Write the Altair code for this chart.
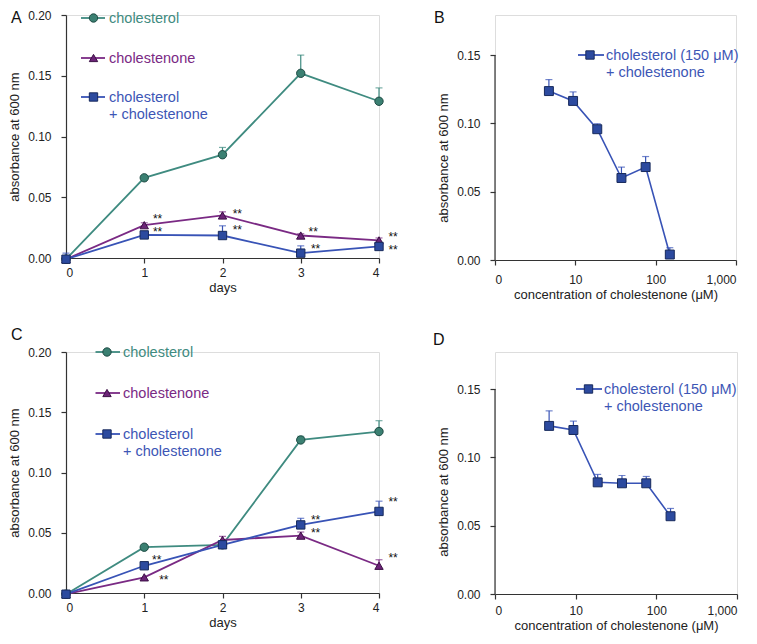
import altair as alt
import pandas as pd

FONT = "Liberation Sans"

SERIES = ["cholesterol", "cholestenone", "cholesterol + cholestenone"]
LEGEND_LABELS = ["cholesterol", "cholestenone", "cholesterol\n+ cholestenone"]
LINE_COLORS = ["#3f8b80", "#7a2a84", "#3853b6"]
FILL_COLORS = ["#3b8072", "#6c2377", "#2c4a9f"]
STROKE_COLORS = ["#1f4b44", "#3a0f44", "#182a5c"]
TEXT_COLORS = ["#3f8b80", "#7a2a84", "#3d56b5"]
SHAPES = ["circle", "triangle-up", "square"]

DAYS = [0, 1, 2, 3, 4]
A_CHOL = [-0.001, 0.066, 0.085, 0.152, 0.129]
A_CHOL_ERR = [0.0, 0.0, 0.006, 0.015, 0.011]
A_CONE = [-0.001, 0.027, 0.035, 0.0185, 0.0145]
A_CONE_ERR = [0.0, 0.002, 0.003, 0.0015, 0.002]
A_COMB = [-0.001, 0.019, 0.0185, 0.004, 0.0095]
A_COMB_ERR = [0.005, 0.001, 0.008, 0.006, 0.002]
A_STAR_X = [1.17, 1.17, 2.19, 2.19, 3.16, 3.19, 4.18, 4.18]
A_STAR_Y = [0.0346, 0.0241, 0.0394, 0.0257, 0.0241, 0.0105, 0.0202, 0.0092]

C_CHOL = [-0.001, 0.038, 0.040, 0.127, 0.134]
C_CHOL_ERR = [0.0, 0.0, 0.001, 0.003, 0.009]
C_CONE = [-0.001, 0.013, 0.044, 0.0476, 0.0226]
C_CONE_ERR = [0.0, 0.0, 0.003, 0.003, 0.005]
C_COMB = [-0.001, 0.0226, 0.040, 0.0565, 0.0677]
C_COMB_ERR = [0.0, 0.002, 0.001, 0.0055, 0.0085]
C_STAR_X = [1.16, 1.25, 3.19, 3.19, 4.18, 4.18]
C_STAR_Y = [0.0306, 0.0137, 0.0637, 0.0524, 0.0782, 0.0323]

CONC = [4.6875, 9.375, 18.75, 37.5, 75, 150]
B_VAL = [0.1236, 0.1164, 0.0957, 0.060, 0.068, 0.004]
B_ERR = [0.0084, 0.0066, 0.004, 0.008, 0.0077, 0.005]
D_VAL = [0.123, 0.120, 0.0817, 0.081, 0.081, 0.0569]
D_ERR = [0.011, 0.0065, 0.0058, 0.0057, 0.005, 0.0057]

BLUE_LINE = LINE_COLORS[2]
BLUE_FILL = FILL_COLORS[2]
BLUE_STROKE = STROKE_COLORS[2]
BLUE_TEXT = TEXT_COLORS[2]

AXIS_KW = dict(grid=False, domainColor="#333", tickColor="#333", labelColor="#222",
               titleColor="#222", labelFont=FONT, titleFont=FONT, labelFontSize=12,
               titleFontSize=13, titleFontWeight="normal", tickSize=5, domainWidth=1.2,
               tickWidth=1.2)

ONE = pd.DataFrame({"k": [0]})


def letter_mark(letter, x, y):
    return alt.Chart(ONE).mark_text(text=letter, font=FONT, fontSize=16, align="left",
                                    baseline="middle", color="#111").encode(
        x=alt.value(x), y=alt.value(y))


def legend_entry(label, line_c, fill_c, stroke_c, text_c, shape, x1, x2, mx, tx, ly):
    rule = alt.Chart(ONE).mark_rule(color=line_c, strokeWidth=1.8).encode(
        x=alt.value(x1), x2=alt.value(x2), y=alt.value(ly))
    pt = alt.Chart(ONE).mark_point(shape=shape, filled=True, fill=fill_c, stroke=stroke_c,
                                   strokeWidth=1, size=70, opacity=1).encode(
        x=alt.value(mx), y=alt.value(ly))
    txt = alt.Chart(ONE).mark_text(text=label, lineBreak="\n", lineHeight=17, font=FONT,
                                   fontSize=14.5, align="left", baseline="alphabetic",
                                   color=text_c).encode(
        x=alt.value(tx), y=alt.value(ly + 5))
    return [rule, pt, txt]


def time_panel(letter, vals, errs, star_x, star_y, width, height, leg_x, leg_y, let_xy):
    rows = []
    for s, v, e in zip(SERIES, vals, errs):
        for d, vi, ei in zip(DAYS, v, e):
            rows.append(dict(series=s, day=d, value=vi, top=vi + ei, err=ei))
    df = pd.DataFrame(rows)
    x = alt.X("day:Q", scale=alt.Scale(domain=[0, 4], nice=False),
              axis=alt.Axis(values=DAYS, format="d", title="days", labelPadding=4,
                            titlePadding=3, **AXIS_KW))
    y = alt.Y("value:Q", scale=alt.Scale(domain=[0, 0.2], nice=False),
              axis=alt.Axis(values=[0, 0.05, 0.1, 0.15, 0.2], format=".2f",
                            title="absorbance at 600 nm", labelPadding=10,
                            titlePadding=6, **AXIS_KW))
    color = alt.Color("series:N", scale=alt.Scale(domain=SERIES, range=LINE_COLORS),
                      legend=None)
    base = alt.Chart(df)
    lines = base.mark_line(strokeWidth=1.8, clip=False).encode(
        x=x, y=y, color=color, order="day:Q")
    bars = base.transform_filter("datum.err > 0").mark_rule(strokeWidth=1.2).encode(
        x="day:Q", y="value:Q", y2="top:Q", color=color)
    caps = base.transform_filter("datum.err > 0").mark_tick(
        orient="horizontal", size=7, thickness=1.2).encode(
        x="day:Q", y="top:Q", color=color)
    points = base.mark_point(filled=True, size=70, strokeWidth=1, opacity=1).encode(
        x="day:Q", y="value:Q",
        shape=alt.Shape("series:N", scale=alt.Scale(domain=SERIES, range=SHAPES), legend=None),
        fill=alt.Fill("series:N", scale=alt.Scale(domain=SERIES, range=FILL_COLORS), legend=None),
        stroke=alt.Stroke("series:N", scale=alt.Scale(domain=SERIES, range=STROKE_COLORS),
                          legend=None))
    stars = alt.Chart(pd.DataFrame({"sx": star_x, "sy": star_y})).mark_text(
        text="**", font=FONT, fontSize=12, color="#111", baseline="middle", dy=3.5).encode(
        x="sx:Q", y="sy:Q")
    layers = [lines, bars, caps, points, stars]
    x1, x2, mx, tx = leg_x
    for i in range(3):
        layers += legend_entry(LEGEND_LABELS[i], LINE_COLORS[i], FILL_COLORS[i],
                               STROKE_COLORS[i], TEXT_COLORS[i], SHAPES[i],
                               x1, x2, mx, tx, leg_y[i])
    layers.append(letter_mark(letter, *let_xy))
    return alt.layer(*layers).properties(width=width, height=height)


def conc_panel(letter, vals, errs, width, height, ytop, title_y, leg_x, leg_y, let_xy,
               xlabel_pad):
    df = pd.DataFrame({"conc": CONC, "value": vals,
                       "top": [v + e for v, e in zip(vals, errs)], "err": errs})
    x = alt.X("conc:Q", scale=alt.Scale(type="log", domain=[1, 1000], nice=False),
              axis=alt.Axis(values=[1, 10, 100, 1000],
                            labelExpr="datum.value == 1 ? '0' : format(datum.value, ',')",
                            title="concentration of cholestenone (\u03bcM)",
                            labelPadding=xlabel_pad, titlePadding=3, **AXIS_KW))
    y = alt.Y("value:Q", scale=alt.Scale(domain=[0, ytop], nice=False),
              axis=alt.Axis(values=[0, 0.05, 0.1, 0.15], format=".2f", domain=False,
                            title="absorbance at 600 nm", titleY=title_y,
                            labelPadding=10, titlePadding=6, **AXIS_KW))
    base = alt.Chart(df)
    axis_line = alt.Chart(pd.DataFrame({"y0": [0.0], "y1": [0.15]})).mark_rule(
        color="#333", strokeWidth=1.2).encode(x=alt.value(0), y="y0:Q", y2="y1:Q")
    line = base.mark_line(strokeWidth=1.6, color=BLUE_LINE).encode(x=x, y=y)
    bars = base.mark_rule(strokeWidth=1.2, color=BLUE_LINE).encode(
        x="conc:Q", y="value:Q", y2="top:Q")
    caps = base.mark_tick(orient="horizontal", size=7, thickness=1.2, color=BLUE_LINE).encode(
        x="conc:Q", y="top:Q")
    points = base.mark_point(shape="square", filled=True, fill=BLUE_FILL, stroke=BLUE_STROKE,
                             strokeWidth=1, size=80, opacity=1).encode(
        x="conc:Q", y="value:Q")
    layers = [axis_line, line, bars, caps, points]
    x1, x2, mx, tx = leg_x
    layers += legend_entry("cholesterol (150 \u03bcM)\n+ cholestenone", BLUE_LINE, BLUE_FILL,
                           BLUE_STROKE, BLUE_TEXT, "square", x1, x2, mx, tx, leg_y)
    layers.append(letter_mark(letter, *let_xy))
    return alt.layer(*layers).properties(width=width, height=height)


A = time_panel("A", [A_CHOL, A_CONE, A_COMB], [A_CHOL_ERR, A_CONE_ERR, A_COMB_ERR],
               A_STAR_X, A_STAR_Y, 313, 243, (15, 39, 27.5, 43), [3, 43, 82], (-55, 3))
B = conc_panel("B", B_VAL, B_ERR, 241, 245, 0.15 * 245 / 205, 142.5,
               (83, 109, 95, 111), 40, (-61, 3), 9)
C = time_panel("C", [C_CHOL, C_CONE, C_COMB], [C_CHOL_ERR, C_CONE_ERR, C_COMB_ERR],
               C_STAR_X, C_STAR_Y, 313, 241, (29.5, 54, 41, 57), [0, 41, 82], (-55, -17))
D = conc_panel("D", D_VAL, D_ERR, 242, 242, 0.15 * 242 / 205, 139.5,
               (81, 107, 93.5, 109), 37, (-62, -12), 6)

chart = alt.concat(
    A, B, C, D, columns=2, bounds="flush",
    spacing=alt.RowColnumber(row=92, column=116),
).properties(padding=0).configure_view(strokeWidth=0).configure(font=FONT)

chart.save("out.html", embed_options={"renderer": "svg", "actions": False})
